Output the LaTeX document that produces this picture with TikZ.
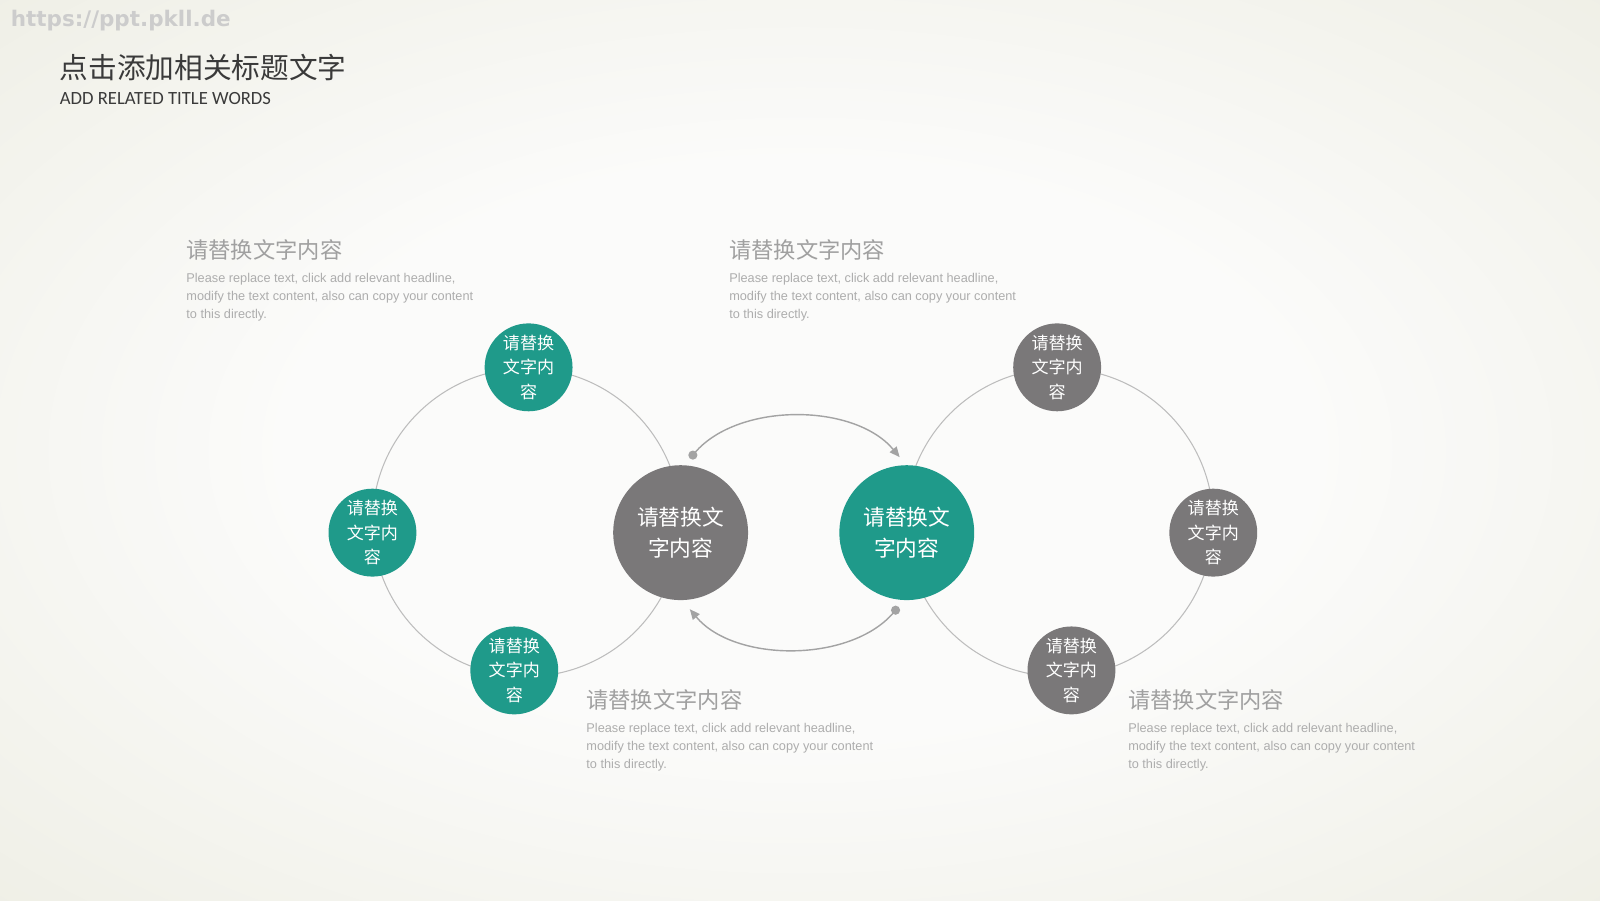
\documentclass[tikz,border=0pt]{standalone}
\usepackage{fontspec}
\setmainfont{Liberation Sans}
\newfontfamily\cjk{Noto Sans CJK SC}
\newfontfamily\cali{Carlito}
\newfontfamily\wmfont{DejaVu Sans}
\usepackage{xcolor}
\usepackage{tikz}
\usetikzlibrary{positioning,arrows.meta}

\definecolor{tealc}{HTML}{1F9A8A}
\definecolor{grayc}{HTML}{7A7879}
\definecolor{ringc}{HTML}{BDBDBD}
\definecolor{linec}{HTML}{A3A3A3}
\definecolor{headc}{HTML}{A0A0A0}
\definecolor{bodyc}{HTML}{ADADAD}
\definecolor{titlec}{HTML}{3A3A3A}
\definecolor{bgin}{HTML}{FBFBFA}
\definecolor{bgedge}{HTML}{E9E9DC}
\pgfdeclareradialshading{bgshade}{\pgfpoint{0bp}{0bp}}{color(0bp)=(bgin); color(16bp)=(bgin); color(46bp)=(bgedge); color(72bp)=(bgedge)}

\begin{document}
\begin{tikzpicture}[x=0.0102cm, y=0.0102cm,
    petal/.style={circle, minimum size=0.878cm, inner sep=0pt, text=white, align=center, font=\cjk\fontsize{4.85}{6.94}\selectfont},
    hub/.style={circle, minimum size=1.347cm, inner sep=0pt, text=white, align=center, font=\cjk\fontsize{6.17}{8.98}\selectfont},
    ring/.style={draw=ringc, line width=0.3pt},
    swap/.style={draw=linec, line width=0.4pt, -{Triangle[length=2.9pt,width=2.5pt]}},
    headtext/.style={anchor=west, inner sep=0pt, text=headc, font=\cjk\fontsize{6.33}{7}\selectfont},
    bodytext/.style={anchor=north west, inner sep=0pt, text=bodyc, align=left, font=\fontsize{3.62}{5.13}\selectfont}]
    % Background
    \shade[shading=bgshade] (0,0) rectangle (1568,882);
    \useasboundingbox (0,0) rectangle (1568,882);

    % Header
    \node[anchor=west, inner sep=0pt, text=black!20, font=\wmfont\bfseries\fontsize{6.1}{6}\selectfont] (url) at (10,862) {https://ppt.pkll.de};
    \node[anchor=west, inner sep=0pt, text=titlec, font=\cjk\fontsize{8.15}{9}\selectfont] (title) at (58,816) {点击添加相关标题文字};
    \node[anchor=west, inner sep=0pt, text=titlec, font=\cali\fontsize{5.3}{5}\selectfont] (subtitle) at (58,785) {ADD RELATED TITLE WORDS};

    % Rings
    \coordinate (lc) at (516,370);
    \coordinate (rc) at (1038,370);
    \draw[ring] (lc) circle (151);
    \draw[ring] (rc) circle (151);

    % Hubs
    \node[hub, fill=grayc] (hubl) at (667,360) {请替换文\\字内容};
    \node[hub, fill=tealc, right=0.898cm of hubl] (hubr) {请替换文\\字内容};

    % Left ring
    \node[petal, fill=tealc] (lt) at (518,522) {请替换\\文字内\\容};
    \node[petal, fill=tealc] (ll) at (365,360) {请替换\\文字内\\容};
    \node[petal, fill=tealc] (lb) at (504,225) {请替换\\文字内\\容};

    % Right ring
    \node[petal, fill=grayc] (rt) at (1036,522) {请替换\\文字内\\容};
    \node[petal, fill=grayc] (rr) at (1189,360) {请替换\\文字内\\容};
    \node[petal, fill=grayc] (rb) at (1050,225) {请替换\\文字内\\容};

    % Arrows
    \coordinate (ls) at ([shift={(12,76)}]hubl.center);
    \coordinate (re) at ([shift={(-7,74)}]hubr.center);
    \coordinate (rs) at ([shift={(-11,-76)}]hubr.center);
    \coordinate (le) at ([shift={(9,-75)}]hubl.center);
    \draw[swap] (ls) .. controls +(41,52) and +(-45,54) .. (re);
    \draw[swap] (rs) .. controls +(-41,-52) and +(44,-53) .. (le);
    \fill[linec] (ls) circle (4.5);
    \fill[linec] (rs) circle (4.5);

    % Text blocks
    \node[headtext] (h1) at (182,637) {请替换文字内容};
    \node[bodytext] (b1) at ([yshift=-0.112cm]h1.south west) {Please replace text, click add relevant headline,\\modify the text content, also can copy your content\\to this directly.};
    \node[headtext] (h2) at (714,637) {请替换文字内容};
    \node[bodytext] (b2) at ([yshift=-0.112cm]h2.south west) {Please replace text, click add relevant headline,\\modify the text content, also can copy your content\\to this directly.};
    \node[headtext] (h3) at (574,196) {请替换文字内容};
    \node[bodytext] (b3) at ([yshift=-0.112cm]h3.south west) {Please replace text, click add relevant headline,\\modify the text content, also can copy your content\\to this directly.};
    \node[headtext] (h4) at (1105,196) {请替换文字内容};
    \node[bodytext] (b4) at ([yshift=-0.112cm]h4.south west) {Please replace text, click add relevant headline,\\modify the text content, also can copy your content\\to this directly.};
\end{tikzpicture}
\end{document}
